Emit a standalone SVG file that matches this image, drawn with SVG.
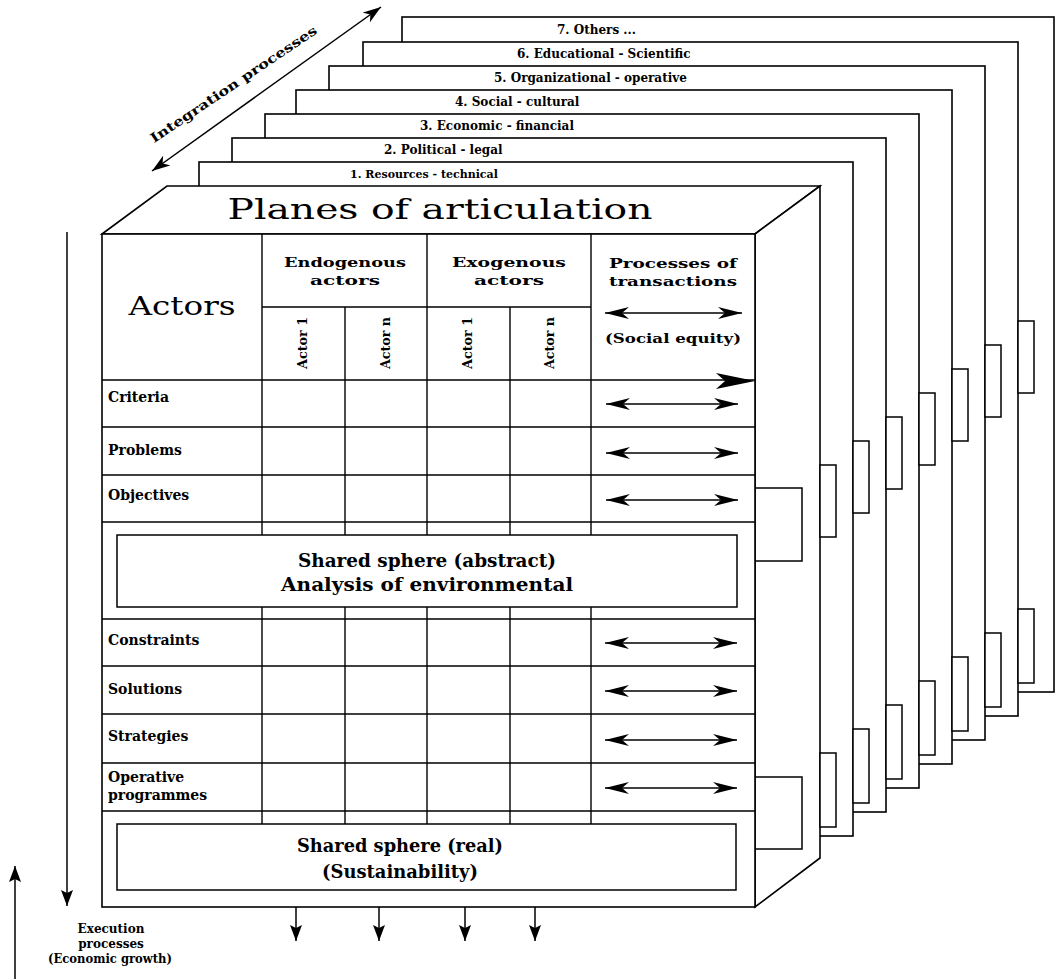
<svg xmlns="http://www.w3.org/2000/svg" width="1056" height="979" viewBox="0 0 1056 979">
<style>
.pl{fill:#fff;stroke:#000;stroke-width:1.6}
.tb{fill:#fff;stroke:#000;stroke-width:1.5}
.ln{fill:none;stroke:#000;stroke-width:1.4}
.ar{fill:none;stroke:#000;stroke-width:1.5}
.b{font-family:"DejaVu Serif","Liberation Serif",serif;font-weight:bold;fill:#000}
.n{font-family:"DejaVu Serif","Liberation Serif",serif;fill:#000}
.s11{font-size:11px}
.s12{font-size:12px}
.s13{font-size:13px}
.s14{font-size:14px}
.c{text-anchor:middle}
</style>
<defs>
<marker id="dbl" viewBox="0 0 24 12" refX="24" refY="6" markerWidth="24" markerHeight="12" markerUnits="userSpaceOnUse" orient="auto-start-reverse"><path d="M0,0 L24,6 L0,12 L7,6 Z" fill="#000"/></marker>
<marker id="tri" viewBox="0 0 16 12" refX="16" refY="6" markerWidth="16" markerHeight="12" markerUnits="userSpaceOnUse" orient="auto-start-reverse"><path d="M0,0 L16,6 L0,12 L3,6 Z" fill="#000"/></marker>
<marker id="dia" viewBox="0 0 18 12" refX="18" refY="6" markerWidth="18" markerHeight="12" markerUnits="userSpaceOnUse" orient="auto-start-reverse"><path d="M0,0 L18,6 L0,12 L5,6 Z" fill="#000"/></marker>
</defs>

<g id="integration-label">
<text class="b s13" transform="translate(236,88) rotate(-34)" text-anchor="middle" textLength="198" lengthAdjust="spacingAndGlyphs">Integration processes</text>
</g>

<g id="plane7"><rect class="pl" x="402" y="17" width="652" height="675"/><text class="b s12" x="557" y="34">7. Others ...</text></g>
<g id="plane6"><rect class="pl" x="363" y="42" width="655" height="674"/><text class="b s12" x="517" y="58">6. Educational - Scientific</text>
<rect class="tb" x="1018" y="321" width="16" height="72"/><rect class="tb" x="1018" y="609" width="16" height="74"/></g>
<g id="plane5"><rect class="pl" x="329" y="66" width="656" height="674"/><text class="b s12" x="494" y="82">5. Organizational - operative</text>
<rect class="tb" x="985" y="345" width="16" height="72"/><rect class="tb" x="985" y="633" width="16" height="74"/></g>
<g id="plane4"><rect class="pl" x="296" y="90" width="656" height="674"/><text class="b s12" x="455" y="106">4. Social - cultural</text>
<rect class="tb" x="952" y="369" width="16" height="72"/><rect class="tb" x="952" y="657" width="16" height="74"/></g>
<g id="plane3"><rect class="pl" x="265" y="114" width="654" height="674"/><text class="b s12" x="420" y="130">3. Economic - financial</text>
<rect class="tb" x="919" y="393" width="16" height="72"/><rect class="tb" x="919" y="681" width="16" height="74"/></g>
<g id="plane2"><rect class="pl" x="232" y="138" width="654" height="674"/><text class="b s12" x="384" y="154">2. Political - legal</text>
<rect class="tb" x="886" y="417" width="16" height="72"/><rect class="tb" x="886" y="705" width="16" height="74"/></g>
<g id="plane1"><rect class="pl" x="199" y="162" width="654" height="674"/><text class="b s11" x="350" y="178">1. Resources - technical</text>
<rect class="tb" x="853" y="441" width="16" height="72"/><rect class="tb" x="853" y="729" width="16" height="74"/></g>

<g id="box">
<polygon class="pl" points="102,234 167,186 820,186 755,234"/>
<polygon class="pl" points="755,234 820,186 820,858 755,907"/>
<rect class="tb" x="820" y="465" width="16" height="72"/>
<rect class="tb" x="820" y="753" width="16" height="74"/>
<rect class="tb" x="755" y="488" width="47" height="73"/>
<rect class="tb" x="755" y="777" width="47" height="72"/>
<rect class="pl" x="102" y="234" width="653" height="673"/>
<text class="n" x="440" y="219" font-size="28" text-anchor="middle" textLength="425" lengthAdjust="spacingAndGlyphs">Planes of articulation</text>
</g>

<g id="table">
<path class="ln" d="M262,234 V824 M427,234 V824 M591,234 V824 M345,307 V824 M510,307 V824 M262,307 H591 M102,380 H755 M102,427 H755 M102,475 H755 M102,522 H755 M102,619 H755 M102,666 H755 M102,714 H755 M102,763 H755 M102,811 H755"/>
<text class="n" x="182" y="315" font-size="26" text-anchor="middle" textLength="107" lengthAdjust="spacingAndGlyphs">Actors</text>
<text class="b s13 c" x="345" y="267" textLength="122" lengthAdjust="spacingAndGlyphs">Endogenous</text>
<text class="b s13 c" x="345" y="285" textLength="70" lengthAdjust="spacingAndGlyphs">actors</text>
<text class="b s13 c" x="509" y="267" textLength="114" lengthAdjust="spacingAndGlyphs">Exogenous</text>
<text class="b s13 c" x="509" y="285" textLength="70" lengthAdjust="spacingAndGlyphs">actors</text>
<text class="b s13 c" x="673" y="268" textLength="128" lengthAdjust="spacingAndGlyphs">Processes of</text>
<text class="b s13 c" x="673" y="286" textLength="128" lengthAdjust="spacingAndGlyphs">transactions</text>
<text class="b s13 c" x="673" y="343" textLength="136" lengthAdjust="spacingAndGlyphs">(Social equity)</text>
<text class="b s12 c" transform="translate(307,343) rotate(-90)" textLength="52" lengthAdjust="spacingAndGlyphs">Actor 1</text>
<text class="b s12 c" transform="translate(390,343) rotate(-90)" textLength="52" lengthAdjust="spacingAndGlyphs">Actor n</text>
<text class="b s12 c" transform="translate(472,343) rotate(-90)" textLength="52" lengthAdjust="spacingAndGlyphs">Actor 1</text>
<text class="b s12 c" transform="translate(554,343) rotate(-90)" textLength="52" lengthAdjust="spacingAndGlyphs">Actor n</text>
<text class="b s14" x="108" y="402">Criteria</text>
<text class="b s14" x="108" y="455">Problems</text>
<text class="b s14" x="108" y="500">Objectives</text>
<text class="b s14" x="108" y="645">Constraints</text>
<text class="b s14" x="108" y="694">Solutions</text>
<text class="b s14" x="108" y="741">Strategies</text>
<text class="b s14" x="108" y="782">Operative</text>
<text class="b s14" x="108" y="800">programmes</text>
</g>

<g id="shared-abstract">
<rect class="tb" x="117" y="535" width="620" height="72"/>
<text class="b c" x="427" y="567" font-size="19" textLength="258" lengthAdjust="spacingAndGlyphs">Shared sphere (abstract)</text>
<text class="b c" x="427" y="591" font-size="19" textLength="292" lengthAdjust="spacingAndGlyphs">Analysis of environmental</text>
</g>

<g id="shared-real">
<rect class="tb" x="117" y="824" width="619" height="66"/>
<text class="b c" x="400" y="852" font-size="19" textLength="206" lengthAdjust="spacingAndGlyphs">Shared sphere (real)</text>
<text class="b c" x="400" y="878" font-size="19" textLength="156" lengthAdjust="spacingAndGlyphs">(Sustainability)</text>
</g>

<g id="execution-label">
<text class="b s12 c" x="111" y="933">Execution</text>
<text class="b s12 c" x="111" y="948">processes</text>
<text class="b s12 c" x="110" y="963" textLength="124" lengthAdjust="spacingAndGlyphs">(Economic growth)</text>
</g>

<g id="connectors">
<line class="ar" x1="152" y1="171" x2="381" y2="7" marker-start="url(#dia)" marker-end="url(#dia)"/>
<line class="ar" x1="605" y1="313" x2="742" y2="313" marker-start="url(#dbl)" marker-end="url(#dbl)"/>
<path d="M716,373 L755,381 L716,389 L725,381 Z" fill="#000"/>
<line class="ar" x1="606" y1="404" x2="738" y2="404" marker-start="url(#dbl)" marker-end="url(#dbl)"/>
<line class="ar" x1="606" y1="453" x2="738" y2="453" marker-start="url(#dbl)" marker-end="url(#dbl)"/>
<line class="ar" x1="606" y1="500" x2="738" y2="500" marker-start="url(#dbl)" marker-end="url(#dbl)"/>
<line class="ar" x1="605" y1="643" x2="737" y2="643" marker-start="url(#dbl)" marker-end="url(#dbl)"/>
<line class="ar" x1="605" y1="691" x2="737" y2="691" marker-start="url(#dbl)" marker-end="url(#dbl)"/>
<line class="ar" x1="605" y1="740" x2="737" y2="740" marker-start="url(#dbl)" marker-end="url(#dbl)"/>
<line class="ar" x1="605" y1="788" x2="737" y2="788" marker-start="url(#dbl)" marker-end="url(#dbl)"/>
<line class="ar" x1="67" y1="232" x2="67" y2="906" marker-end="url(#tri)"/>
<line class="ar" x1="15" y1="979" x2="15" y2="866" marker-end="url(#tri)"/>
<line class="ar" x1="296" y1="907" x2="296" y2="941" marker-end="url(#tri)"/>
<line class="ar" x1="379" y1="907" x2="379" y2="941" marker-end="url(#tri)"/>
<line class="ar" x1="465" y1="907" x2="465" y2="941" marker-end="url(#tri)"/>
<line class="ar" x1="535" y1="907" x2="535" y2="941" marker-end="url(#tri)"/>
</g>
</svg>
